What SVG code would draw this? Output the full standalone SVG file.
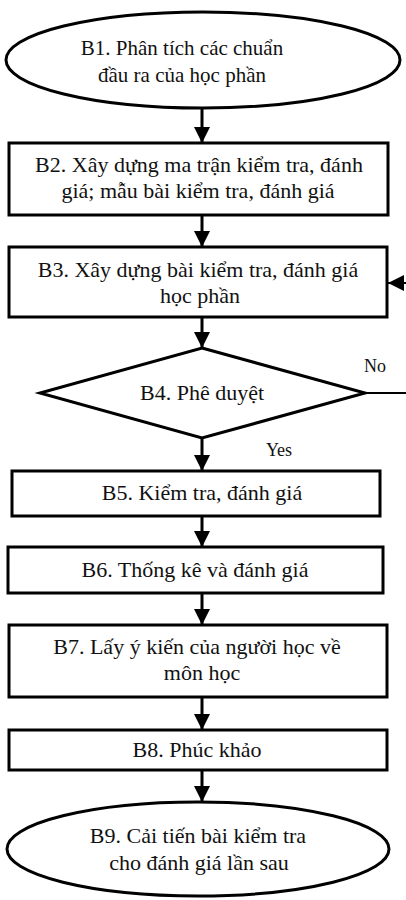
<svg xmlns="http://www.w3.org/2000/svg" width="406" height="900" viewBox="0 0 406 900">
<style>
.shape{fill:#fff;stroke:#000;stroke-width:3}
.t{font-family:"Liberation Serif","Times New Roman",serif;font-size:22px;fill:#111;text-anchor:middle}
.t1{font-family:"Liberation Serif","Times New Roman",serif;font-size:21px;fill:#111;text-anchor:middle}
.s{font-family:"Liberation Serif","Times New Roman",serif;font-size:18px;fill:#111;text-anchor:middle}
.c{fill:none;stroke:#000;stroke-width:3}
.c2{fill:none;stroke:#000;stroke-width:2}
</style>
<defs>
<marker id="ah" viewBox="0 0 16 16" refX="16" refY="8" markerWidth="16" markerHeight="16" markerUnits="userSpaceOnUse" orient="auto">
<path d="M0,0 L16,8 L0,16 z" fill="#000"/>
</marker>
</defs>
<rect width="406" height="900" fill="#fff"/>
<g id="connectors">
<line class="c" x1="202" y1="108" x2="202" y2="143" marker-end="url(#ah)"/>
<line class="c" x1="202" y1="215" x2="202" y2="247" marker-end="url(#ah)"/>
<line class="c" x1="202" y1="317" x2="202" y2="348" marker-end="url(#ah)"/>
<line class="c" x1="202" y1="438" x2="202" y2="471" marker-end="url(#ah)"/>
<line class="c" x1="202" y1="516" x2="202" y2="547" marker-end="url(#ah)"/>
<line class="c" x1="202" y1="593" x2="202" y2="625" marker-end="url(#ah)"/>
<line class="c" x1="202" y1="697" x2="202" y2="730" marker-end="url(#ah)"/>
<line class="c" x1="202" y1="770" x2="202" y2="802" marker-end="url(#ah)"/>
<path class="c2" d="M365,393 L412,393 L412,283"/>
<line class="c2" x1="412" y1="283" x2="388" y2="283" marker-end="url(#ah)"/>
<text class="s" x="375" y="372">No</text>
<text class="s" x="279" y="456">Yes</text>
</g>
<g id="B1">
<ellipse class="shape" cx="203" cy="60" rx="197" ry="48"/>
<text class="t1" x="182" y="55">B1. Phân tích các chuẩn</text>
<text class="t1" x="182" y="82">đầu ra của học phần</text>
</g>
<g id="B2">
<rect class="shape" x="9" y="143" width="379" height="72"/>
<text class="t" x="199" y="172">B2. Xây dựng ma trận kiểm tra, đánh</text>
<text class="t" x="198" y="198">giá; mẫu bài kiểm tra, đánh giá</text>
</g>
<g id="B3">
<rect class="shape" x="9" y="247" width="378" height="70"/>
<text class="t" x="198" y="277">B3. Xây dựng bài kiểm tra, đánh giá</text>
<text class="t" x="200" y="303">học phần</text>
</g>
<g id="B4">
<polygon class="shape" points="202,348 365,393 202,438 40,393"/>
<text class="t" x="202" y="400">B4. Phê duyệt</text>
</g>
<g id="B5">
<rect class="shape" x="12" y="471" width="368" height="45"/>
<text class="t" x="202" y="500">B5. Kiểm tra, đánh giá</text>
</g>
<g id="B6">
<rect class="shape" x="8" y="547" width="375" height="46"/>
<text class="t" x="195" y="577">B6. Thống kê và đánh giá</text>
</g>
<g id="B7">
<rect class="shape" x="9" y="625" width="378" height="72"/>
<text class="t" x="197" y="654">B7. Lấy ý kiến của người học về</text>
<text class="t" x="202" y="680">môn học</text>
</g>
<g id="B8">
<rect class="shape" x="9" y="730" width="378" height="40"/>
<text class="t" x="197" y="757">B8. Phúc khảo</text>
</g>
<g id="B9">
<ellipse class="shape" cx="198" cy="849" rx="191" ry="47"/>
<text class="t" x="198" y="843">B9. Cải tiến bài kiểm tra</text>
<text class="t" x="199" y="870">cho đánh giá lần sau</text>
</g>
</svg>
